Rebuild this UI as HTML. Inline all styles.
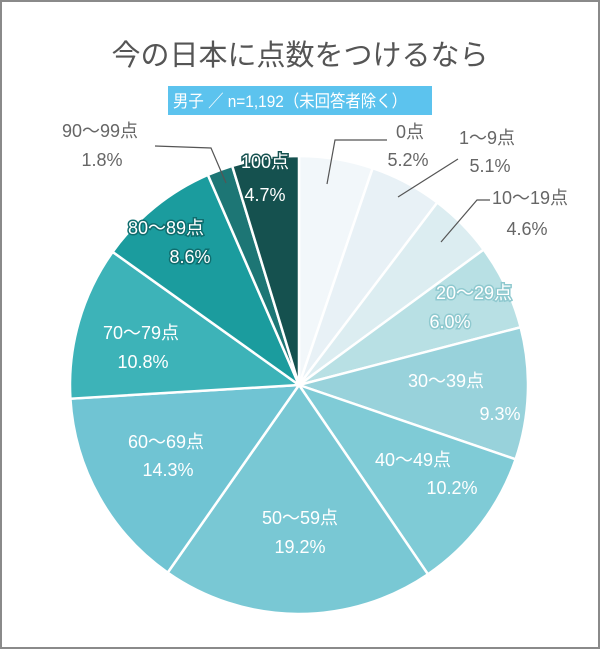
<!DOCTYPE html>
<html><head><meta charset="utf-8"><style>
body{margin:0;background:#fff;font-family:"Liberation Sans","Noto Sans CJK JP",sans-serif}
#frame{position:absolute;left:0;top:0;width:596px;height:645px;border:2px solid #8a8a8a;background:#fff}
#title{position:absolute;left:0;width:600px;top:32px;text-align:center;font-size:29px;color:#555}
svg{position:absolute;left:0;top:0}
</style></head><body>
<div id="frame"></div>
<div id="title">今の日本に点数をつけるなら</div>
<svg id="pie" width="600" height="649">
<rect x="168" y="86" width="264" height="29" fill="#5cc3ee"/>
<text x="173" y="107" font-size="17" fill="#fff" textLength="234" lengthAdjust="spacingAndGlyphs" font-family='"Liberation Sans","Noto Sans CJK JP",sans-serif'>男子 ／ n=1,192（未回答者除く）</text>
</svg>
<script>
const categories=["0点","1～9点","10～19点","20～29点","30～39点","40～49点","50～59点","60～69点","70～79点","80～89点","90～99点","100点"];
const values=[5.2,5.1,4.6,6.0,9.3,10.2,19.2,14.3,10.8,8.6,1.8,4.7];
const colors=["#f2f7fa","#e8f1f6","#dcedf1","#b8e0e4","#98d2db","#7fcbd6","#79c8d4","#70c4d3","#3db3b8","#1b9c9e","#1d7675","#15514f"];
const cx=299,cy=385,r=229;
const svg=document.getElementById('pie');
const NS="http://www.w3.org/2000/svg";
const total=values.reduce((a,b)=>a+b,0);
function pt(frac,rad){const a=frac*2*Math.PI;return [cx+rad*Math.sin(a),cy-rad*Math.cos(a)];}
const outside={0:[[327,184],[335,140],[387,140]],1:[[398,197],[458,159]],2:[[441,242],[477,200],[490,200]],10:[[226,183],[211,148],[155,146]]};
// label centers: [catX,catY,valX,valY,color,outline]
const labelPos={0:[410,132,408,160,"#666",null],1:[487,138,490,166,"#666",null],2:[530,198,527,229,"#666",null],
3:[474,293,450,322,"#fff","#8fc9cf"],4:[446,381,500,414,"#fff",null],5:[413,460,452,488,"#fff",null],
6:[300,518,300,547,"#fff",null],7:[166,442,168,470,"#fff",null],8:[141,333,143,362,"#fff",null],
9:[166,228,190,257,"#fff","#0e6d6e"],10:[100,131,102,160,"#666",null],11:[265,162,265,195,"#fff","#15514f"]};
let acc=0;
values.forEach((v,i)=>{
  const f0=acc/total,f1=(acc+v)/total;acc+=v;
  const [x0,y0]=pt(f0,r),[x1,y1]=pt(f1,r);
  const p=document.createElementNS(NS,'path');
  p.setAttribute('d',`M${cx},${cy}L${x0},${y0}A${r},${r} 0 ${f1-f0>0.5?1:0} 1 ${x1},${y1}Z`);
  p.setAttribute('fill',colors[i]);p.setAttribute('stroke','#fff');p.setAttribute('stroke-width','2.5');
  
  
  svg.appendChild(p);
});
values.forEach((v,i)=>{
  if(outside[i]){const l=document.createElementNS(NS,'polyline');
    l.setAttribute('points',outside[i].map(q=>q.join(',')).join(' '));
    l.setAttribute('fill','none');l.setAttribute('stroke','#555');l.setAttribute('stroke-width','1.2');
    
    
    svg.appendChild(l);}
  const [ax,ay,bx,by,c,o]=labelPos[i];
  [[categories[i],ax,ay],[v.toFixed(1)+'%',bx,by]].forEach(([t,x,y],k)=>{
    const tx=document.createElementNS(NS,'text');
    tx.setAttribute('x',x);tx.setAttribute('y',y+6);tx.setAttribute('text-anchor','middle');
    tx.setAttribute('font-size','18');tx.setAttribute('fill',c);
    if(o){tx.setAttribute('stroke',o);tx.setAttribute('stroke-width','3');tx.setAttribute('paint-order','stroke');}
    tx.setAttribute('font-family','"Liberation Sans","Noto Sans CJK JP",sans-serif');
    tx.textContent=t;
    
    
    svg.appendChild(tx);
  });
});
</script>
</body></html>
